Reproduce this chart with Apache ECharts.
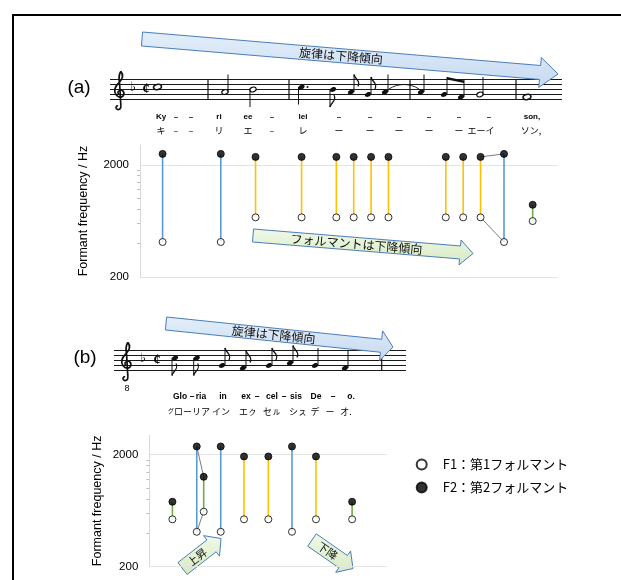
<!DOCTYPE html>
<html>
<head>
<meta charset="utf-8">
<script src="https://cdn.jsdelivr.net/npm/echarts@6/dist/echarts.min.js"></script>
<style>
  html, body { margin: 0; padding: 0; background: #fff; }
  #chart { width: 621px; height: 580px; }
</style>
</head>
<body>
<div id="chart"></div>
<script>
// ---- (a) Kyrie: syllable positions (beats), vowel, formants in Hz ----
const posA   = [1.3, 4.65, 6.65, 9.3, 11.3, 12.3, 13.3, 14.3, 17.6, 18.6, 19.6, 20.95, 22.6];
const vowelA = ['i', 'i', 'e', 'e', 'e', 'e', 'e', 'e', 'e', 'e', 'e', 'i', 'o'];
const f1A    = [410, 410, 680, 680, 680, 680, 680, 680, 680, 680, 680, 410, 630];
const f2A    = [2500, 2500, 2350, 2350, 2350, 2350, 2350, 2350, 2350, 2350, 2350, 2500, 880];
const glideA = [[10, 11]];

// ---- (b) Gloria ----
const posB   = [1.33, 2.73, 3.13, 4.11, 5.45, 6.85, 8.21, 9.59, 11.67];
const vowelB = ['o', 'i', 'a', 'i', 'e', 'e', 'i', 'e', 'o'];
const f1B    = [530, 410, 620, 410, 530, 530, 410, 530, 530];
const f2B    = [760, 2370, 1270, 2370, 1930, 1930, 2370, 1930, 760];
const glideB = [[1, 2]];

const xMaxA = 24, xMaxB = 13.66;
const yMin = 200, yMax = 3000;          // Hz, log scale
const yLabelHz = [200, 2000];
const minorTickHz = [400, 600, 800, 1000, 1200, 1400, 1600, 1800];
const F1_NAME = 'F1：第1フォルマント';
const F2_NAME = 'F2：第2フォルマント';
const vowelColor = { i: '#5b9bd5', e: '#ffc000', a: '#70ad47', o: '#70ad47' };

// decades above yMin
const dec = hz => Math.log10(hz / yMin);

// lyrics: [text, centre x]
const lyricA1 = [['Ky',161],['–',176],['–',191],['ri',219],['ee',248],['–',272],['lei',303],
                 ['–',339],['–',370],['–',399],['–',429],['–',459],['–',489],['son,',532]];
const lyricA2 = [['キ',161],['–',176],['–',191],['リ',219],['エ',248],['–',272],['レ',303],
                 ['ー',339],['ー',370],['ー',399],['ー',429],['ー',459],['エーイ',481],['ソン,',531]];
const lyricB1 = [['Glo',180],['–',192],['ria',201],['in',223],['ex',246],['–',257],['cel',272],
                 ['–',284],['sis',296],['De',316],['–',333],['o.',351]];
const lyricB2 = [['{s|グ}ローリア',189],['イン',221],['エㇰ',248],['セㇽ',272],['シㇲ',298],
                 ['デ',315],['ー',330],['オ.',346]];

// notes: [x, staff step (0 = bottom line), kind, stem, dotted]
const notesA = [
  [157.5, 5, 'whole'], [225, 3, 'half', 'up'], [253, 4, 'half', 'down'],
  [301.5, 5, 'quarter', 'down', true], [333, 4, 'eighth', 'down'], [351, 3, 'eighth', 'up'],
  [368, 2, 'eighth', 'up'], [385, 3, 'quarter', 'up'],
  [421, 3, 'quarter', 'up'], [444, 2, 'beam', 'up'], [461, 1, 'beam', 'up'], [480, 2, 'half', 'up'],
  [527, 1, 'whole']
];
const notesB = [
  [175, 5, 'eighth', 'down'], [196.7, 5, 'eighth', 'down'], [222, 2, 'eighth', 'up'],
  [243, 1, 'eighth', 'up'], [269, 2, 'eighth', 'up'], [290, 3, 'eighth', 'up'],
  [315, 2, 'quarter', 'up'], [345, 1, 'quarter', 'up']
];
const staffA = { x0: 110, x1: 562, top: 79.5, gap: 5, bars: [208, 289, 410, 516], clefX: 113, flatX: 133, cutX: 146 };
const staffB = { x0: 114, x1: 406, top: 350.5, gap: 5, bars: [381.7], clefX: 120, flatX: 143, cutX: 157, oct: true };

// ---------- music notation as graphic elements ----------
const G = [];
const line = (x1, y1, x2, y2, stroke, lw) =>
  G.push({ type: 'line', silent: true, shape: { x1, y1, x2, y2 }, style: { stroke, lineWidth: lw } });
const curve = (x1, y1, cpx1, cpy1, cpx2, cpy2, x2, y2, lw) =>
  G.push({ type: 'bezierCurve', silent: true, shape: { x1, y1, cpx1, cpy1, cpx2, cpy2, x2, y2 },
    style: { stroke: '#111', lineWidth: lw, fill: null } });
const text = (str, x, y, o) => G.push(Object.assign({
  type: 'text', silent: true, x, y,
  style: Object.assign({ text: str, fill: '#000', align: 'center', verticalAlign: 'middle',
    textAlign: 'center', textVerticalAlign: 'middle' }, o.style || {})
}, o.el || {}));
const yOf = (st, step) => st.top + 4 * st.gap - step * st.gap / 2;

// G clef strokes in a 20 x 60 unit box: [start, cp1, cp2, end]
const clefSegs = [
  [11, 4, 15, 9, 13, 15, 8, 20], [8, 20, 3, 25, 1, 31, 4, 36], [4, 36, 7, 41, 14, 41, 15, 36],
  [15, 36, 16, 31, 11, 28, 8, 31], [8, 31, 6, 33, 7, 36, 9, 36],
  [11, 4, 8, 8, 8, 14, 9, 20], [9, 20, 10, 30, 10, 40, 11, 52],
  [11, 52, 11, 57, 7, 58, 5, 56], [5, 56, 3, 54, 5, 51, 7, 52]
];

function drawStaff(st) {
  const bot = st.top + 4 * st.gap;
  for (let i = 0; i < 5; i++) line(st.x0, st.top + i * st.gap, st.x1, st.top + i * st.gap, '#1a1a1a', 1);
  st.bars.forEach(b => line(b, st.top, b, bot, '#111', 1.2));
  const s = 0.72, ox = st.clefX, oy = st.top - 11;
  clefSegs.forEach(c => curve(ox + c[0] * s, oy + c[1] * s, ox + c[2] * s, oy + c[3] * s,
    ox + c[4] * s, oy + c[5] * s, ox + c[6] * s, oy + c[7] * s, 1.7));
  if (st.oct) text('8', st.clefX + 7, bot + 18, { style: { fontSize: 9, fontFamily: 'Liberation Sans' } });
  text('♭', st.flatX, yOf(st, 4) - 1.5, { style: { fontSize: 13, fontFamily: 'DejaVu Sans' } });
  text('¢', st.cutX, yOf(st, 4), { style: { fontSize: 14, fontFamily: 'Liberation Serif', fontWeight: 'bold' } });
}

function drawNotes(st, notes) {
  const L = 3.5 * st.gap;
  const beamTops = [];
  notes.forEach(([x, step, kind, dir, dotted]) => {
    const y = yOf(st, step);
    if (kind === 'whole') {
      G.push({ type: 'ellipse', silent: true, x, y, rotation: 0.25, shape: { cx: 0, cy: 0, rx: 4, ry: 2.5 },
        style: { fill: '#fff', stroke: '#111', lineWidth: 1.6 } });
      return;
    }
    const hollow = kind === 'half';
    G.push({ type: 'ellipse', silent: true, x, y, rotation: 0.4, shape: { cx: 0, cy: 0, rx: 3.3, ry: 2.3 },
      style: hollow ? { fill: '#fff', stroke: '#111', lineWidth: 1.2 } : { fill: '#111' } });
    const sx = dir === 'up' ? x + 3 : x - 3;
    const sy = dir === 'up' ? y - L : y + L;
    line(sx, y, sx, sy, '#111', 1);
    if (kind === 'eighth') {
      const k = dir === 'up' ? 1 : -1;
      curve(sx, sy, sx + 1, sy + 5 * k, sx + 7, sy + 6 * k, sx + 4, sy + 12 * k, 1.3);
    }
    if (kind === 'beam') beamTops.push([sx, sy]);
    if (dotted) G.push({ type: 'circle', silent: true, shape: { cx: x + 6, cy: y, r: 1 }, style: { fill: '#111' } });
  });
  if (beamTops.length === 2) {
    const [a, b] = beamTops;
    G.push({ type: 'polygon', silent: true, shape: { points: [[a[0], a[1]], [b[0], b[1] + 1], [b[0], b[1] + 3.5], [a[0], a[1] + 2.5]] },
      style: { fill: '#111' } });
  }
}

function drawLyrics(items, y, style) {
  items.forEach(([t, x]) => text(t, x, y, { style }));
}

function arrow(x0, y0, x1, y1, bw, hw, hl, fillTop, fillBot, label, fontSize) {
  const dx = x1 - x0, dy = y1 - y0, len = Math.hypot(dx, dy);
  const ux = dx / len, uy = dy / len, nx = -uy, ny = ux;
  const bx = x1 - ux * hl, by = y1 - uy * hl;
  const pts = [
    [x0 + nx * bw, y0 + ny * bw], [bx + nx * bw, by + ny * bw], [bx + nx * hw, by + ny * hw], [x1, y1],
    [bx - nx * hw, by - ny * hw], [bx - nx * bw, by - ny * bw], [x0 - nx * bw, y0 - ny * bw]
  ];
  G.push({ type: 'polygon', silent: true, shape: { points: pts },
    style: { fill: new echarts.graphic.LinearGradient(0, 0, 0, 1, [{ offset: 0, color: fillTop }, { offset: 1, color: fillBot }]),
      stroke: '#4a7ebb', lineWidth: 1 } });
  const mx = (x0 + bx) / 2, my = (y0 + by) / 2;
  text(label, mx, my, { el: { rotation: -Math.atan2(dy, dx) },
    style: { fontSize, fontFamily: 'Noto Sans CJK JP', fill: '#111' } });
}

// frame
G.push({ type: 'rect', silent: true, shape: { x: 13, y: 15, width: 700, height: 700 },
  style: { fill: null, stroke: '#000', lineWidth: 2 } });

drawStaff(staffA); drawNotes(staffA, notesA);
// tie across the bar line
const tieY = yOf(staffA, 3);
curve(389, tieY - 3, 398, tieY - 9, 410, tieY - 9, 419, tieY - 3, 0.9);
drawStaff(staffB); drawNotes(staffB, notesB);

const latinStyle = { fontSize: 8, fontWeight: 'bold', fontFamily: 'Liberation Sans' };
const kanaStyle = { fontSize: 9, fontFamily: 'Noto Sans CJK JP', rich: { s: { fontSize: 6, fontFamily: 'Noto Sans CJK JP', verticalAlign: 'top' } } };
drawLyrics(lyricA1, 117, latinStyle);
drawLyrics(lyricA2, 131, kanaStyle);
drawLyrics(lyricB1, 397, Object.assign({}, latinStyle, { fontSize: 8.5 }));
drawLyrics(lyricB2, 412, kanaStyle);

text('(a)', 79, 88, { style: { fontSize: 19, fontFamily: 'Liberation Sans' } });
text('(b)', 85, 358, { style: { fontSize: 19, fontFamily: 'Liberation Sans' } });

arrow(142, 39, 558, 74, 7, 15, 18, '#e3eefa', '#c6daf1', '旋律は下降傾向', 12);
arrow(253, 235.5, 473, 253.5, 6.5, 12.5, 13, '#f0f8e8', '#d6ebc2', 'フォルマントは下降傾向', 12);
arrow(166, 323.5, 393, 347, 6.5, 15, 12, '#e3eefa', '#c6daf1', '旋律は下降傾向', 12);
arrow(182.5, 568.5, 221, 538.5, 7.5, 13, 12, '#f0f8e8', '#d6ebc2', '上昇', 11);
arrow(312, 540, 353, 568.5, 7.5, 13, 12, '#f0f8e8', '#d6ebc2', '下降', 11);

// ---------- chart ----------
const yAxisBase = (gridIndex, nameGap) => ({
  type: 'value', gridIndex, min: 0, max: dec(yMax), interval: 1,
  name: 'Formant frequency / Hz', nameLocation: 'middle', nameGap,
  nameTextStyle: { fontSize: 12.5, color: '#000', fontFamily: 'Liberation Sans' },
  axisLine: { show: true, lineStyle: { color: '#d9d9d9', width: 1 } },
  axisTick: { show: false },
  axisLabel: { margin: 11, fontSize: 11.5, color: '#000', fontFamily: 'Liberation Sans',
    formatter: v => { const r = Math.round(yMin * Math.pow(10, v)); return yLabelHz.includes(r) ? String(r) : ''; } },
  splitLine: { show: true, lineStyle: { color: ['#e3e3e3', '#e3e3e3', 'rgba(0,0,0,0)'], width: 1 } }
});
const yAxisMinor = (gridIndex) => ({
  type: 'value', gridIndex, min: 0, max: dec(yMax), position: 'left',
  axisLine: { show: false }, axisLabel: { show: false }, splitLine: { show: false },
  axisTick: { show: true, length: 3, customValues: minorTickHz.map(dec), lineStyle: { color: '#bfbfbf' } }
});

function stemSeries(pos, vowels, f1, f2, xi, yi) {
  return {
    type: 'custom', xAxisIndex: xi, yAxisIndex: yi, silent: true, z: 1,
    data: pos.map((x, i) => [x, dec(f1[i]), dec(f2[i])]),
    renderItem: (params, api) => {
      const p1 = api.coord([api.value(0), api.value(1)]);
      const p2 = api.coord([api.value(0), api.value(2)]);
      return { type: 'line', shape: { x1: p1[0], y1: p1[1], x2: p2[0], y2: p2[1] },
        style: { stroke: vowelColor[vowels[params.dataIndex]], lineWidth: 1.6 } };
    }
  };
}
function glideSeries(pos, f1, f2, pairs, xi, yi) {
  const segs = [];
  pairs.forEach(([i, j]) => {
    segs.push([pos[i], dec(f1[i]), pos[j], dec(f1[j])]);
    segs.push([pos[i], dec(f2[i]), pos[j], dec(f2[j])]);
  });
  return {
    type: 'custom', xAxisIndex: xi, yAxisIndex: yi, silent: true, z: 1, data: segs,
    renderItem: (params, api) => {
      const a = api.coord([api.value(0), api.value(1)]);
      const b = api.coord([api.value(2), api.value(3)]);
      return { type: 'line', shape: { x1: a[0], y1: a[1], x2: b[0], y2: b[1] },
        style: { stroke: '#595959', lineWidth: 0.8 } };
    }
  };
}
const pointSeries = (name, pos, f, xi, yi, filled) => ({
  type: 'scatter', name, xAxisIndex: xi, yAxisIndex: yi, z: 3, symbol: 'circle', symbolSize: 7,
  data: pos.map((x, i) => [x, dec(f[i])]),
  itemStyle: filled ? { color: '#000', borderColor: '#000', borderWidth: 1 } : { color: '#fff', borderColor: '#000', borderWidth: 1 },
  emphasis: { disabled: true }
});

const option = {
  animation: false,
  backgroundColor: '#fff',
  grid: [
    { left: 140, right: 64, top: 145, height: 132 },
    { left: 149.3, right: 234.3, top: 435, height: 131.7 }
  ],
  xAxis: [
    { type: 'value', gridIndex: 0, min: 0, max: xMaxA, show: false },
    { type: 'value', gridIndex: 1, min: 0, max: xMaxB, show: false }
  ],
  yAxis: [yAxisBase(0, 50), yAxisBase(1, 45), yAxisMinor(0), yAxisMinor(1)],
  legend: {
    orient: 'vertical', left: 410.7, top: 453, itemGap: 10, itemWidth: 32, itemHeight: 10,
    data: [F1_NAME, F2_NAME],
    textStyle: { fontSize: 13, color: '#000', fontFamily: 'Noto Sans CJK JP' },
    selectedMode: false
  },
  series: [
    stemSeries(posA, vowelA, f1A, f2A, 0, 0),
    glideSeries(posA, f1A, f2A, glideA, 0, 0),
    pointSeries(F1_NAME, posA, f1A, 0, 0, false),
    pointSeries(F2_NAME, posA, f2A, 0, 0, true),
    stemSeries(posB, vowelB, f1B, f2B, 1, 1),
    glideSeries(posB, f1B, f2B, glideB, 1, 1),
    pointSeries(F1_NAME, posB, f1B, 1, 1, false),
    pointSeries(F2_NAME, posB, f2B, 1, 1, true)
  ],
  graphic: { elements: G }
};

const chart = echarts.init(document.getElementById('chart'), null, { renderer: 'canvas' });
chart.setOption(option);
</script>
</body>
</html>
